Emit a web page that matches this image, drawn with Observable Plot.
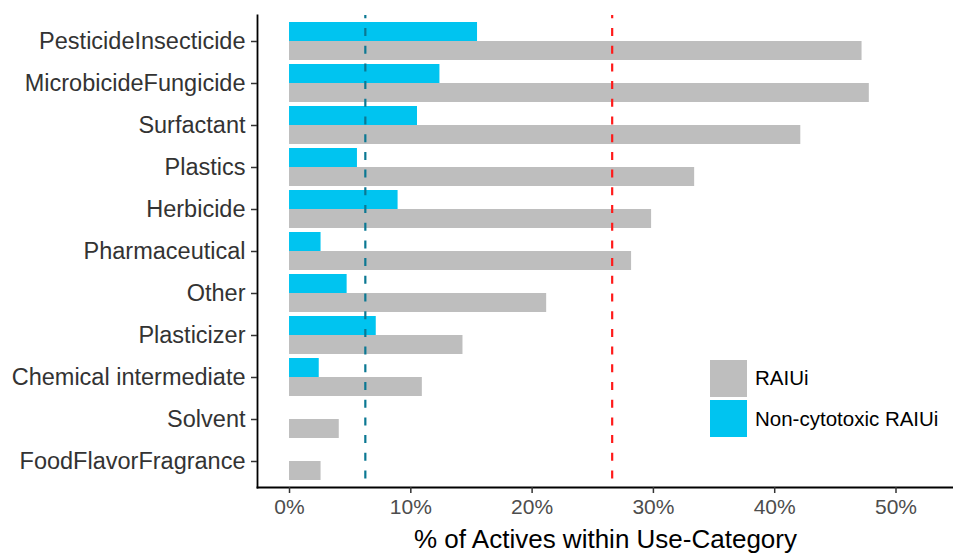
<!DOCTYPE html>
<html>
<head>
<meta charset="utf-8">
<script src="https://cdn.jsdelivr.net/npm/d3@7"></script>
<script src="https://cdn.jsdelivr.net/npm/@observablehq/plot@0.6"></script>
<style>
  html, body { margin: 0; padding: 0; background: #fff; }
  #chart { position: relative; width: 953px; height: 553px; font-family: "Liberation Sans", Arial, sans-serif; }
  #chart svg { display: block; }
  .legend { position: absolute; left: 710px; top: 358px; font-size: 20.5px; color: #000; }
  .legend .row { display: flex; align-items: center; height: 40.5px; }
  .legend .key { width: 37px; height: 37px; margin-right: 8px; }
</style>
</head>
<body>
<div id="chart"></div>
<script>
// Use categories, top to bottom
const categories = [
  "PesticideInsecticide",
  "MicrobicideFungicide",
  "Surfactant",
  "Plastics",
  "Herbicide",
  "Pharmaceutical",
  "Other",
  "Plasticizer",
  "Chemical intermediate",
  "Solvent",
  "FoodFlavorFragrance"
];

// % of actives within each use-category
const raiui        = [47.2, 47.8, 42.15, 33.4, 29.85, 28.2, 21.2, 14.3, 10.95, 4.1, 2.6];
const nonCytotoxic = [15.5, 12.4, 10.55, 5.6, 8.95, 2.6, 4.75, 7.15, 2.45, null, null];

// Reference cut-offs drawn as dashed vertical lines
const cutoffValues = [6.25, 26.6];
const cutoffColors = ["#0b7893", "#ff1a1a"];

const xTicks = [0, 10, 20, 30, 40, 50];
const seriesNames = ["RAIUi", "Non-cytotoxic RAIUi"];
const seriesColors = ["#bebebe", "#00c4f0"];
const xTitle = "% of Actives within Use-Category";

const grayRows = categories.map((c, i) => ({category: c, value: raiui[i]}));
const blueRows = categories.map((c, i) => ({category: c, value: nonCytotoxic[i]})).filter(d => d.value != null);
const cutoffRows = cutoffValues.map((v, i) => ({value: v, color: cutoffColors[i]}));

const plot = Plot.plot({
  width: 953,
  height: 553,
  marginLeft: 257,
  marginRight: 0,
  marginTop: 15,
  marginBottom: 66,
  style: {fontFamily: '"Liberation Sans", Arial, sans-serif', background: "#fff", overflow: "visible"},
  x: {domain: [-2.64, 54.74]},
  y: {type: "band", domain: categories, paddingInner: 0.0974, paddingOuter: 0.154, align: 0.5},
  marks: [
    Plot.barX(grayRows, {y: "category", x: "value", fill: seriesColors[0], insetTop: 19}),
    Plot.barX(blueRows, {y: "category", x: "value", fill: seriesColors[1], insetBottom: 19}),
    Plot.ruleX(cutoffRows, {x: "value", stroke: "color", strokeWidth: 2.2, strokeDasharray: "8,9.7", strokeDashoffset: 4.7}),
    Plot.frame({anchor: "left", stroke: "#000", strokeWidth: 1.8}),
    Plot.frame({anchor: "bottom", stroke: "#000", strokeWidth: 1.8}),
    Plot.axisY({label: null, tickSize: 6, tickPadding: 6, fontSize: 23.5, fill: "#333", stroke: "#333", strokeWidth: 1.5}),
    Plot.axisX({ticks: xTicks, tickFormat: d => `${d}%`, label: null, tickSize: 6, tickPadding: 6, fontSize: 21, fill: "#4d4d4d", stroke: "#333", strokeWidth: 1.5}),
    Plot.text([xTitle], {frameAnchor: "bottom", dy: 60, lineAnchor: "bottom", fontSize: 26, fill: "#000"})
  ]
});

const chart = document.getElementById("chart");
chart.appendChild(plot);

// Legend placed inside the panel, lower right
const legend = document.createElement("div");
legend.className = "legend";
seriesNames.forEach((name, i) => {
  const row = document.createElement("div");
  row.className = "row";
  const key = document.createElement("div");
  key.className = "key";
  key.style.background = seriesColors[i];
  const label = document.createElement("span");
  label.textContent = name;
  row.appendChild(key);
  row.appendChild(label);
  legend.appendChild(row);
});
chart.appendChild(legend);
</script>
</body>
</html>
